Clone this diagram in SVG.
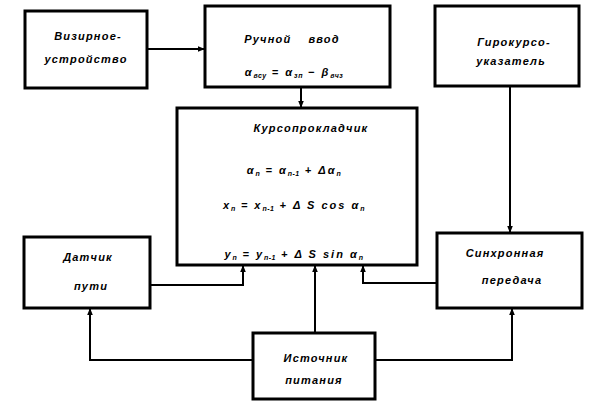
<svg xmlns="http://www.w3.org/2000/svg" width="592" height="410" viewBox="0 0 592 410">
<style>
.box{fill:#fff;stroke:#000;stroke-width:3}
.ln{fill:none;stroke:#000;stroke-width:2}
text{font-family:"Liberation Sans","DejaVu Sans",sans-serif;font-style:italic;font-weight:bold;font-size:11px;letter-spacing:1.2px;fill:#000;text-anchor:middle}
.f{letter-spacing:2px}
.sub{font-size:7px;letter-spacing:0.5px}
</style>
<defs>
<marker id="ah" viewBox="0 0 10 10" refX="10" refY="5" markerWidth="7" markerHeight="7" markerUnits="userSpaceOnUse" orient="auto">
<path d="M0,1 L10,5 L0,9 Z" fill="#000"/>
</marker>
</defs>
<rect width="592" height="410" fill="#fff"/>
<g id="connectors">
<path class="ln" d="M148,49 H205" marker-end="url(#ah)"/>
<path class="ln" d="M301,87 V108" marker-end="url(#ah)"/>
<path class="ln" d="M510,86 V233" marker-end="url(#ah)"/>
<path class="ln" d="M150,285 H243 V265" marker-end="url(#ah)"/>
<path class="ln" d="M437,283 H363 V265" marker-end="url(#ah)"/>
<path class="ln" d="M315,333 V265" marker-end="url(#ah)"/>
<path class="ln" d="M253,360 H90 V308" marker-end="url(#ah)"/>
<path class="ln" d="M375,360 H512 V308" marker-end="url(#ah)"/>
</g>
<g id="vizir">
<rect class="box" x="25" y="11" width="122" height="77"/>
<text x="88" y="40">Визирное-</text>
<text x="86" y="63">устройство</text>
</g>
<g id="ruchnoy">
<rect class="box" x="205" y="6" width="185" height="81"/>
<text x="292" y="43" xml:space="preserve">Ручной    ввод</text>
<text class="f" x="294" y="76">α<tspan class="sub" dy="2">всу</tspan><tspan dy="-2"> = α</tspan><tspan class="sub" dy="2">зп</tspan><tspan dy="-2"> − β</tspan><tspan class="sub" dy="2">вчз</tspan></text>
</g>
<g id="giro">
<rect class="box" x="435" y="6" width="144" height="80"/>
<text x="514" y="46">Гирокурсо-</text>
<text x="511" y="65">указатель</text>
</g>
<g id="kurso">
<rect class="box" x="177" y="108" width="240" height="157"/>
<text x="311" y="132">Курсопрокладчик</text>
<text class="f" x="294" y="174">α<tspan class="sub" dy="2">n</tspan><tspan dy="-2"> = α</tspan><tspan class="sub" dy="2">n-1</tspan><tspan dy="-2"> + Δα</tspan><tspan class="sub" dy="2">n</tspan></text>
<text class="f" x="294" y="209">x<tspan class="sub" dy="2">n</tspan><tspan dy="-2"> = x</tspan><tspan class="sub" dy="2">n-1</tspan><tspan dy="-2"> + Δ S cos α</tspan><tspan class="sub" dy="2">n</tspan></text>
<text class="f" x="294" y="258">y<tspan class="sub" dy="2">n</tspan><tspan dy="-2"> = y</tspan><tspan class="sub" dy="2">n-1</tspan><tspan dy="-2"> + Δ S sin α</tspan><tspan class="sub" dy="2">n</tspan></text>
</g>
<g id="datchik">
<rect class="box" x="24" y="237" width="126" height="71"/>
<text x="88" y="261">Датчик</text>
<text x="91" y="290">пути</text>
</g>
<g id="sinhron">
<rect class="box" x="437" y="233" width="145" height="75"/>
<text x="505" y="257">Синхронная</text>
<text x="512" y="284">передача</text>
</g>
<g id="istochnik">
<rect class="box" x="253" y="333" width="122" height="66"/>
<text x="316" y="362">Источник</text>
<text x="314" y="384">питания</text>
</g>
</svg>
